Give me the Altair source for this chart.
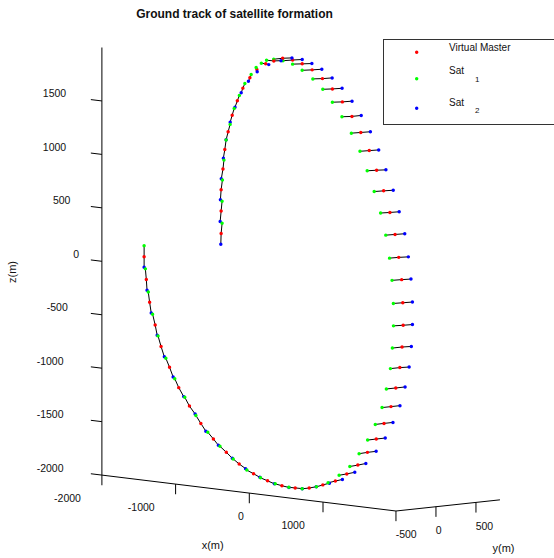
import altair as alt
import pandas as pd

W, H = 554, 558

# ---------------------------------------------------------------------------
# Formation track (metres). The virtual master flies in the y = 0 plane;
# the two satellites share its x and are offset in y and z.
# ---------------------------------------------------------------------------
master_x = [-1970, -1940, -1895, -1820, -1740, -1625, -1500, -1355, -1200, -1030,
            -855, -680, -485, -295, -100, 80, 270, 455, 625, 780,
            930, 1060, 1180, 1285, 1380, 1445, 1500, 1530, 1545, 1540,
            1525, 1485, 1435, 1365, 1280, 1185, 1085, 970, 850, 720,
            585, 450, 310, 175, 45, -90, -210, -320, -440, -535,
            -630, -705, -775, -830, -875, -900, -925, -925, -925]
master_z = [5, -205, -415, -620, -815, -1000, -1180, -1340, -1490, -1620,
            -1730, -1825, -1900, -1950, -1980, -1985, -1970, -1925, -1875, -1795,
            -1700, -1570, -1435, -1280, -1115, -935, -740, -545, -340, -130,
            85, 290, 500, 700, 895, 1080, 1255, 1415, 1555, 1680,
            1790, 1875, 1945, 1990, 2015, 2020, 1985, 1950, 1885, 1800,
            1695, 1570, 1430, 1270, 1100, 915, 720, 520, 310]
sat1_y = [0, -12, -17, -32, -38, -46, -50, -58, -62, -70,
          -79, -75, -84, -88, -84, -79, -88, -80, -91, -96,
          -100, -104, -108, -109, -112, -118, -118, -121, -121, -118,
          -121, -115, -116, -116, -118, -118, -116, -118, -125, -125,
          -120, -120, -125, -120, -121, -112, -91, -55, -9, 16,
          25, 25, 25, 25, 16, 12, 16, 12, 12]
sat1_dz = [103, 100, 98, 103, 102, 88, 88, 86, 80, 68,
           62, 53, 41, 35, 25, 12, 0, -12, -9, -5,
           -5, -4, -1, -1, 0, 0, 0, 0, 4, 3,
           3, 2, 3, 4, 3, 4, 3, 3, 7, 7,
           6, 7, 6, 7, 3, 0, 14, 8, 19, 30,
           41, 48, 60, 67, 87, 83, 89, 92, 95]
sat2_y = [0, 9, 20, 25, 41, 45, 62, 71, 62, 62,
          75, 80, 79, 85, 88, 88, 88, 82, 88, 100,
          100, 109, 112, 112, 112, 116, 116, 116, 116, 120,
          116, 120, 121, 116, 120, 116, 118, 120, 116, 121,
          121, 121, 121, 121, 120, 116, 90, 38, 4, -18,
          -21, -29, -25, -25, -18, -21, -9, -12, -4]
sat2_dz = [-99, -101, -102, -98, -100, -94, -89, -80, -77, -64,
           -62, -50, -40, -35, -23, -14, 5, 9, 8, 7,
           7, 1, 0, 0, 0, 0, -4, -4, -3, -3,
           -4, -5, -3, -3, -4, -6, -3, -3, 0, -3,
           -4, -3, -4, -7, -5, -6, -5, -12, -22, -32,
           -42, -57, -64, -73, -79, -89, -93, -96, -100]

series_names = ["Virtual Master", "Sat1", "Sat2"]
series_colors = ["#ff0000", "#00ff00", "#0000ff"]

# Axis box and ticks
XLIM = (-2000, 1990)
YLIM = (-500, 800)
ZLIM = (-2000, 2000)
x_ticks = [-2000, -1000, 0, 1000]
y_ticks = [-500, 0, 500]
z_ticks = [-2000, -1500, -1000, -500, 0, 500, 1000, 1500]

# Orthographic 3-D view: screen position of the origin and the pixel
# displacement produced by one metre along each axis.
ORIGIN = (289.3, 275.0)
EX = (0.0737, 0.0090)
EY = (0.0800, -0.0086)
EZ = (0.0, -0.1069)


def proj(x, y, z):
    return (ORIGIN[0] + EX[0] * x + EY[0] * y + EZ[0] * z,
            ORIGIN[1] + EX[1] * x + EY[1] * y + EZ[1] * z)


# ---------------------------------------------------------------------------
# Build tables
# ---------------------------------------------------------------------------
pts, segs = [], []
for i in range(len(master_x)):
    m = (master_x[i], 0.0, master_z[i])
    s1 = (master_x[i], sat1_y[i], master_z[i] + sat1_dz[i])
    s2 = (master_x[i], sat2_y[i], master_z[i] + sat2_dz[i])
    for k, (name, p) in enumerate(zip(series_names, (m, s1, s2))):
        u, v = proj(*p)
        pts.append(dict(step=i, series=name, order=i * 3 + k, u=u, v=v))
    # formation line Sat1 -> master -> Sat2
    for seq, p in enumerate((s1, m, s2)):
        u, v = proj(*p)
        segs.append(dict(step=i, seq=seq, u=u, v=v))
pts = pd.DataFrame(pts)
segs = pd.DataFrame(segs)

TICK_Z = 95      # length of x / y ticks (in z metres)
TICK_X = 150     # length of z ticks (in x metres)


def seg(a, b):
    u1, v1 = proj(*a)
    u2, v2 = proj(*b)
    return dict(u=u1, v=v1, u2=u2, v2=v2)


axis_rows = [
    seg((XLIM[0], YLIM[0], ZLIM[0]), (XLIM[0], YLIM[0], ZLIM[1])),
    seg((XLIM[0], YLIM[0], ZLIM[0]), (XLIM[1], YLIM[0], ZLIM[0])),
    seg((XLIM[1], YLIM[0], ZLIM[0]), (XLIM[1], YLIM[1], ZLIM[0])),
]
for t in x_ticks:
    axis_rows.append(seg((t, YLIM[0], ZLIM[0]), (t, YLIM[0], ZLIM[0] - TICK_Z)))
for t in y_ticks:
    axis_rows.append(seg((XLIM[1], t, ZLIM[0]), (XLIM[1], t, ZLIM[0] - TICK_Z)))
for t in z_ticks:
    axis_rows.append(seg((XLIM[0], YLIM[0], t), (XLIM[0] - TICK_X, YLIM[0], t)))
axis_df = pd.DataFrame(axis_rows)


def label_width(s):
    # layout width used to right-anchor the tick labels
    return 10.1 * sum(c.isdigit() for c in s) + 6.2 * s.count("-")


lab = []
for t in x_ticks:
    u, v = proj(t, YLIM[0], ZLIM[0])
    s = str(t)
    lab.append(dict(text=s, u=u - 1.2 - label_width(s), v=v + 24))
for t in y_ticks:
    u, v = proj(XLIM[1], t, ZLIM[0])
    s = str(t)
    lab.append(dict(text=s, u=u - 0.3, v=v + 24.3))
for t in z_ticks:
    u, v = proj(XLIM[0] - TICK_X, YLIM[0], t)
    s = str(t)
    lab.append(dict(text=s, u=u - 7.6 - label_width(s), v=v - 5.2))
lab_df = pd.DataFrame(lab)

# ---------------------------------------------------------------------------
# Chart
# ---------------------------------------------------------------------------
SX = alt.Scale(domain=[0, W], range=[0, W])
SY = alt.Scale(domain=[0, H], range=[0, H])
FONT = "Liberation Sans"
INK = "#111111"

X = alt.X("u:Q", scale=SX, axis=None)
Y = alt.Y("v:Q", scale=SY, axis=None)

axes = alt.Chart(axis_df).mark_rule(color="#000000", strokeWidth=1).encode(
    x=X, y=Y, x2="u2:Q", y2="v2:Q")

tick_labels = alt.Chart(lab_df).mark_text(
    align="left", baseline="middle", font=FONT, fontSize=10.5, color=INK
).encode(x=X, y=Y, text="text:N")

lines = alt.Chart(segs).mark_line(color="#000000", strokeWidth=1).encode(
    x=X, y=Y, detail="step:N", order="seq:Q")

dots = alt.Chart(pts).mark_circle(size=12, opacity=1).encode(
    x=X, y=Y,
    color=alt.Color("series:N", scale=alt.Scale(domain=series_names, range=series_colors),
                    legend=None),
    order=alt.Order("order:Q"))

blank = pd.DataFrame({"k": [0]})


def text_at(txt, x, y, size=10.5, weight="normal", angle=0, align="center"):
    return alt.Chart(blank).mark_text(
        text=txt, font=FONT, fontSize=size, fontWeight=weight, angle=angle,
        align=align, baseline="middle", color=INK
    ).encode(x=alt.value(x), y=alt.value(y))


title = text_at("Ground track of satellite formation", 234.5, 14, size=12, weight="bold")
xlab = text_at("x(m)", 212.7, 546, size=11)
ylab = text_at("y(m)", 503.5, 549, size=11)
zlab = text_at("z(m)", 13, 272, size=11, angle=270)


# legend box (its right edge runs past the figure border)
def hrule(x1, x2, y, color="#000000"):
    return alt.Chart(blank).mark_rule(color=color, strokeWidth=1).encode(
        x=alt.value(x1), x2=alt.value(x2), y=alt.value(y))


def vrule(x, y1, y2, color="#000000"):
    return alt.Chart(blank).mark_rule(color=color, strokeWidth=1).encode(
        x=alt.value(x), y=alt.value(y1), y2=alt.value(y2))


legend_box = (hrule(383, 560, 39.5, "#333333") + hrule(383, 560, 124.5, "#333333")
              + vrule(383.5, 39, 125, "#333333"))


def legend_dot(y, color):
    return alt.Chart(blank).mark_circle(size=12, opacity=1, color=color).encode(
        x=alt.value(416.7), y=alt.value(y))


legend = (legend_box
          + legend_dot(52.3, series_colors[0]) + legend_dot(78.7, series_colors[1])
          + legend_dot(108.3, series_colors[2])
          + text_at("Virtual Master", 449, 47.7, size=10, align="left")
          + text_at("Sat", 449, 70.7, size=10, align="left")
          + text_at("1", 475, 80, size=8, align="left")
          + text_at("Sat", 449, 102.7, size=10, align="left")
          + text_at("2", 475, 110.7, size=8, align="left"))

chart = alt.layer(
    axes, tick_labels, lines, dots, title, xlab, ylab, zlab, legend
).properties(
    width=W, height=H, padding=0,
    autosize=alt.AutoSizeParams(type="none"),
    background="white",
).configure_view(stroke=None)

chart.save("out.html", embed_options={"renderer": "svg", "actions": False})
